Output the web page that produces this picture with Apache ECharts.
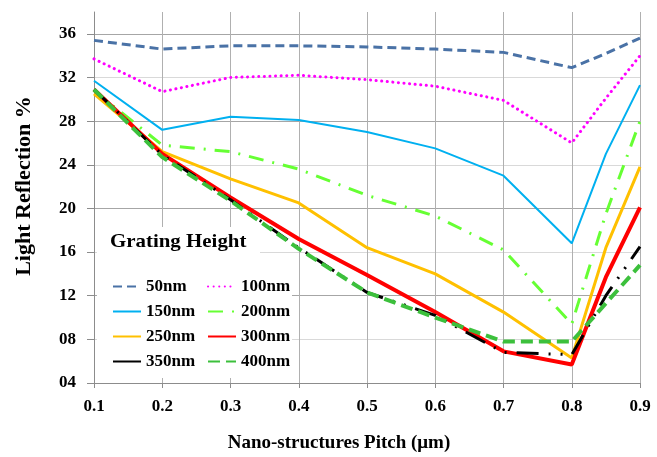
<!DOCTYPE html>
<html>
<head>
<meta charset="utf-8">
<script src="https://cdn.jsdelivr.net/npm/echarts@6/dist/echarts.min.js"></script>
<style>
  html, body { margin: 0; padding: 0; background: #fff; }
  #chart { width: 657px; height: 457px; }
</style>
</head>
<body>
<div id="chart"></div>
<script>
// pitch values (um) where each curve was sampled
const pitch = [0.1, 0.2, 0.3, 0.4, 0.5, 0.6, 0.7, 0.8, 0.85, 0.9]
const xTicks = [0.1, 0.2, 0.3, 0.4, 0.5, 0.6, 0.7, 0.8, 0.9]
const yTicks = [4, 8, 12, 16, 20, 24, 28, 32, 36]

// reflection % per grating height
const h50 = [35.4, 34.6, 34.9, 34.9, 34.8, 34.6, 34.3, 32.9, 34.2, 35.6]
const h100 = [33.7, 30.7, 32.0, 32.2, 31.8, 31.2, 29.9, 26.0, 30.1, 34.0]
const h150 = [31.7, 27.2, 28.4, 28.1, 27.0, 25.5, 23.0, 16.8, 25.0, 31.3]
const h200 = [30.8, 25.8, 25.2, 23.6, 21.2, 19.3, 16.2, 9.4, 19.5, 28.0]
const h250 = [30.5, 25.2, 22.7, 20.5, 16.4, 14.0, 10.5, 6.3, 16.4, 23.8]
const h300 = [30.9, 25.0, 21.0, 17.2, 13.9, 10.5, 6.9, 5.7, 13.7, 20.1]
const h350 = [30.9, 24.9, 20.8, 16.4, 12.3, 10.2, 6.8, 6.6, 12.0, 16.5]
const h400 = [30.9, 24.7, 20.7, 16.3, 12.3, 10.0, 7.8, 7.8, 11.3, 14.8]

const serif = 'Liberation Serif'
const toPts = arr => arr.map((v, i) => [pitch[i], v])

const chart = echarts.init(document.getElementById('chart'))

function line(name, data, color, width, type, cap) {
  return {
    name: name,
    type: 'line',
    data: toPts(data),
    symbol: 'none',
    smooth: false,
    lineStyle: { color: color, width: width, type: type, cap: cap || 'butt' },
    itemStyle: { color: color }
  }
}

const legendBase = {
  orient: 'vertical',
  top: 273,
  itemWidth: 28,
  itemHeight: 12,
  itemGap: 8,
  selectedMode: false,
  itemStyle: { opacity: 0 },
  textStyle: { fontFamily: serif, fontWeight: 'bold', fontSize: 17, color: '#000', lineHeight: 17 }
}

chart.setOption({
  animation: false,
  backgroundColor: '#fff',
  grid: { left: 94, right: 17, top: 12, bottom: 74 },
  xAxis: {
    type: 'value',
    min: 0.1,
    max: 0.9,
    interval: 0.1,
    axisLine: { lineStyle: { color: '#8c8c8c' } },
    axisTick: { show: true, length: 5, lineStyle: { color: '#8c8c8c' } },
    axisLabel: {
      margin: 15,
      customValues: xTicks,
      fontFamily: serif, fontWeight: 'bold', fontSize: 17, color: '#000',
      formatter: v => v.toFixed(1)
    },
    splitLine: { show: true, lineStyle: { color: '#b0b0b0' } }
  },
  yAxis: {
    type: 'value',
    min: 4,
    max: 38,
    interval: 2,
    axisLine: { show: true, lineStyle: { color: '#8c8c8c' } },
    axisTick: { show: true, length: 7, customValues: yTicks, lineStyle: { color: '#8c8c8c' } },
    axisLabel: {
      margin: 18,
      customValues: yTicks,
      fontFamily: serif, fontWeight: 'bold', fontSize: 17, color: '#000',
      formatter: v => (v < 10 ? '0' : '') + v
    },
    splitLine: { show: true, lineStyle: { color: ['#a6a6a6', '#d9d9d9'] } }
  },
  legend: [
    Object.assign({}, legendBase, {
      left: 107,
      data: ['50nm', '150nm', '250nm', { name: '350nm', lineStyle: { type: 'solid' } }]
    }),
    Object.assign({}, legendBase, {
      left: 202,
      data: ['100nm', '200nm', '300nm', '400nm']
    })
  ],
  graphic: [
    { type: 'rect', z: 1, shape: { x: 97, y: 227, width: 163, height: 36 }, style: { fill: '#fff' } },
    { type: 'rect', z: 1, shape: { x: 97, y: 262, width: 195, height: 116 }, style: { fill: '#fff' } },
    {
      type: 'text', z: 2, x: 110, y: 242, scaleX: 1.1,
      style: { text: 'Grating Height', font: 'bold 19px "Liberation Serif"', fill: '#000', verticalAlign: 'middle' }
    },
    {
      type: 'text', z: 2, x: 24, y: 186, rotation: Math.PI / 2,
      style: { text: 'Light Reflection %', font: 'bold 22px "Liberation Serif"', fill: '#000', align: 'center', verticalAlign: 'middle' }
    },
    {
      type: 'text', z: 2, x: 339, y: 443,
      style: { text: 'Nano-structures Pitch (\u03bcm)', font: 'bold 19px "Liberation Serif"', fill: '#000', align: 'center', verticalAlign: 'middle' }
    }
  ],
  series: [
    line('50nm', h50, '#4a72a6', 3, [9, 5]),
    line('100nm', h100, '#ff00ff', 3, [0.1, 5.5], 'round'),
    line('150nm', h150, '#00b0f0', 2),
    line('200nm', h200, '#66ff33', 3, [15, 9, 2, 9]),
    line('250nm', h250, '#ffc000', 3),
    line('300nm', h300, '#ff0000', 4),
    line('350nm', h350, '#000000', 3, [22, 10, 2, 10, 2, 10]),
    line('400nm', h400, '#3cc03c', 4, [12, 6])
  ]
})
</script>
</body>
</html>
